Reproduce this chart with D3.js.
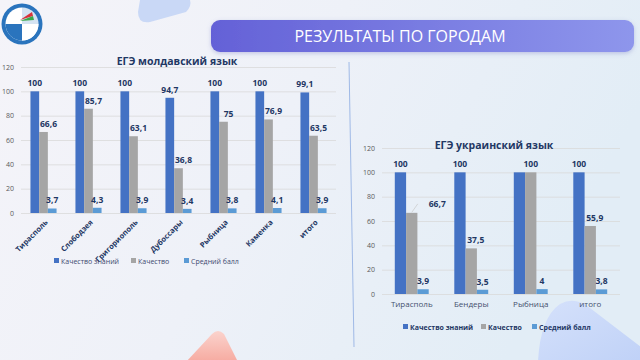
<!DOCTYPE html>
<html><head><meta charset="utf-8">
<script src="https://cdn.jsdelivr.net/npm/d3@7"></script>
<style>
html,body{margin:0;padding:0;width:640px;height:360px;overflow:hidden;}
svg{display:block;font-family:"Open Sans","Noto Sans",sans-serif;}
</style></head>
<body>
<script>
// ---- data ----
const molCities = ["Тирасполь","Слободзея","Григориополь","Дубоссары","Рыбница","Каменка","итого"];
const molKnowledge = [100,100,100,94.7,100,100,99.1];
const molQuality = [66.6,85.7,63.1,36.8,75,76.9,63.5];
const molAvg = [3.7,4.3,3.9,3.4,3.8,4.1,3.9];

const ukrCities = ["Тирасполь","Бендеры","Рыбница","итого"];
const ukrKnowledge = [100,100,100,100];
const ukrQuality = [66.7,37.5,100,55.9];
const ukrAvg = [3.9,3.5,4,3.8];

const seriesNames = ["Качество знаний","Качество","Средний балл"];
const seriesColors = ["#4472C4","#A5A5A5","#5B9BD5"];
const yTicks = [0,20,40,60,80,100,120];
const pageTitle = "РЕЗУЛЬТАТЫ ПО ГОРОДАМ";
const molTitle = "ЕГЭ молдавский язык";
const ukrTitle = "ЕГЭ украинский язык";

const W = 640, H = 360;
const svg = d3.select("body").append("svg").attr("width", W).attr("height", H);
const defs = svg.append("defs");

// background
const bg = defs.append("linearGradient").attr("id","bg").attr("x1","0").attr("y1","0").attr("x2","1").attr("y2","0.3");
bg.append("stop").attr("offset","0").attr("stop-color","#f5f4f9");
bg.append("stop").attr("offset","0.5").attr("stop-color","#eef1f8");
bg.append("stop").attr("offset","1").attr("stop-color","#e2edf6");
svg.append("rect").attr("width",W).attr("height",H).attr("fill","url(#bg)");

// decorative shapes
svg.append("path").attr("d","M140,0 L190,0 Q192,6 186,12 L150,22 Q138,24 138,12 Z").attr("fill","#c9d8f6");
const pink = defs.append("linearGradient").attr("id","pink").attr("x1","0").attr("y1","0").attr("x2","0").attr("y2","1");
pink.append("stop").attr("offset","0").attr("stop-color","#fbd3cd");
pink.append("stop").attr("offset","1").attr("stop-color","#f6aaa0");
svg.append("path").attr("d","M186,362 L212,334 Q218,328 224,334 L238,362 Z").attr("fill","url(#pink)");
const blob = defs.append("linearGradient").attr("id","blob").attr("x1","0").attr("y1","0").attr("x2","1").attr("y2","1");
blob.append("stop").attr("offset","0").attr("stop-color","#d5e1fb");
blob.append("stop").attr("offset","1").attr("stop-color","#bfd1f7");
svg.append("path").attr("d","M538,362 Q540,318 560,304 Q575,296 590,308 L645,350 L645,362 Z").attr("fill","url(#blob)");

// logo
const logo = svg.append("g").attr("transform","translate(22,24)");
logo.append("circle").attr("r",20.5).attr("fill","#2a74bd");
logo.append("circle").attr("r",16.5).attr("fill","#ffffff");
logo.append("path").attr("d","M-16.5,0 A16.5,16.5 0 0,0 0,16.5 L0,0 Z").attr("fill","#2a74bd");
logo.append("path").attr("d","M0,0 L0,16.5 A16.5,16.5 0 0,0 16.5,0 Z").attr("fill","#ffffff");
logo.append("path").attr("d","M0,-16.5 A16.5,16.5 0 0,1 16.5,0 L0,0 Z").attr("fill","#2a74bd").attr("opacity",0.2);
logo.append("path").attr("d","M-2,-4 L10,-12 L11,-8 Z").attr("fill","#d6343b");
logo.append("path").attr("d","M-2,-3 L11,-8 L12,-4 Z").attr("fill","#3aa84a");

// header bar
const hg = defs.append("linearGradient").attr("id","hdr").attr("x1","0").attr("y1","0").attr("x2","1").attr("y2","0");
hg.append("stop").attr("offset","0").attr("stop-color","#6461d7");
hg.append("stop").attr("offset","1").attr("stop-color","#8e96ec");
const sh = defs.append("filter").attr("id","shadow").attr("x","-10%").attr("y","-30%").attr("width","120%").attr("height","180%");
sh.append("feDropShadow").attr("dx",0).attr("dy",1.5).attr("stdDeviation",2).attr("flood-color","#6a6fbf").attr("flood-opacity",0.35);
svg.append("rect").attr("x",211).attr("y",20).attr("width",423).attr("height",32).attr("rx",9)
  .attr("fill","url(#hdr)").attr("filter","url(#shadow)");
svg.append("text").attr("x",400).attr("y",41.5).attr("text-anchor","middle")
  .attr("fill","#ffffff").attr("font-size",16).attr("font-family","'Open Sans',sans-serif")
  .text(pageTitle);

// divider
svg.append("line").attr("x1",349).attr("y1",62).attr("x2",354).attr("y2",347)
  .attr("stroke","#9fb9e6").attr("stroke-width",1);

const fmt = v => String(v).replace(".", ",");
const navy = "#1f3864";

function drawChart(cfg){
  const g = svg.append("g");
  const x0 = d3.scaleBand().domain(cfg.cities).range([cfg.x1, cfg.x2])
    .paddingInner(cfg.pIn).paddingOuter(cfg.pIn/2);
  const x1 = d3.scaleBand().domain([0,1,2]).range([0, x0.bandwidth()]);
  const y = d3.scaleLinear().domain([0,120]).range([cfg.y0, cfg.yTop]);

  // gridlines
  g.selectAll("line.grid").data(yTicks).join("line")
    .attr("x1",cfg.x1).attr("x2",cfg.x2)
    .attr("y1",d=>y(d)+0.5).attr("y2",d=>y(d)+0.5)
    .attr("stroke","#d9d9d9").attr("stroke-width",0.8);

  // y axis labels
  const ax = g.append("g").attr("transform",`translate(${cfg.x1},0)`)
    .call(d3.axisLeft(y).tickValues(yTicks).tickSize(0).tickPadding(cfg.tickPad));
  ax.select(".domain").remove();
  ax.selectAll("text").attr("fill","#595959").attr("font-size",7).attr("font-family","'Open Sans',sans-serif");

  const series = [cfg.knowledge, cfg.quality, cfg.avg];
  const rows = [];
  cfg.cities.forEach((c,i)=>series.forEach((s,k)=>rows.push({c,i,k,v:s[i]})));

  g.selectAll("rect.bar").data(rows).join("rect")
    .attr("x",d=>x0(d.c)+x1(d.k)).attr("width",x1.bandwidth())
    .attr("y",d=>y(d.v)).attr("height",d=>y(0)-y(d.v))
    .attr("fill",d=>seriesColors[d.k]);

  // data labels
  const lab = rows.filter(d=>!(d.k===0 && cfg.quality[d.i]===d.v));
  g.selectAll("text.val").data(lab).join("text")
    .attr("x",d=>{
      let cx = x0(d.c)+x1(d.k)+x1.bandwidth()/2;
      if(d.k===1 && d.v!==cfg.knowledge[d.i]) cx += cfg.grayShift;
      if(cfg.leader && d.k===1 && d.i===cfg.leader.i) cx += cfg.leader.dx;
      return cx;})
    .attr("y",d=>{
      let yy = y(d.v)-cfg.labGap;
      if(cfg.leader && d.k===1 && d.i===cfg.leader.i) yy += cfg.leader.dy;
      return yy;})
    .attr("text-anchor","middle").attr("font-size",cfg.labSize).attr("font-weight","bold")
    .attr("fill",navy).attr("font-family","'Open Sans',sans-serif").text(d=>fmt(d.v));

  if(cfg.leader){
    const d = rows.find(r=>r.k===1 && r.i===cfg.leader.i);
    const bx = x0(d.c)+x1(1)+x1.bandwidth()/2;
    g.append("line").attr("x1",bx).attr("y1",y(d.v)-0.5)
      .attr("x2",bx+cfg.leader.lx).attr("y2",y(d.v)+cfg.leader.ly)
      .attr("stroke","#c8c8c8").attr("stroke-width",0.7);
  }

  // x labels
  const xl = g.selectAll("text.cat").data(cfg.cities).join("text")
    .attr("fill",cfg.catColor).attr("font-size",cfg.catSize).attr("font-weight",cfg.catWeight)
    .attr("font-family","'Open Sans',sans-serif").text(d=>d);
  if(cfg.rotate){
    xl.attr("text-anchor","end")
      .attr("transform",d=>`translate(${x0(d)+x0.bandwidth()/2+3},${cfg.y0+8}) rotate(-45)`)
      .attr("dy","0.35em");
  } else {
    xl.attr("text-anchor","middle").attr("x",d=>x0(d)+x0.bandwidth()/2).attr("y",cfg.y0+13);
  }

  // title
  g.append("text").attr("x",cfg.titleX).attr("y",cfg.titleY).attr("text-anchor","middle")
    .attr("fill",navy).attr("font-size",10.5).attr("font-weight","bold")
    .attr("font-family","'Open Sans',sans-serif").text(cfg.title);

  // legend
  const lg = g.append("g");
  seriesNames.forEach((n,k)=>{
    lg.append("rect").attr("x",cfg.legX[k]).attr("y",cfg.legY-3).attr("width",5).attr("height",5).attr("fill",seriesColors[k]);
    lg.append("text").attr("x",cfg.legX[k]+7).attr("y",cfg.legY+2.5).attr("font-size",cfg.legSize)
      .attr("font-weight",cfg.legWeight).attr("fill",cfg.legColor)
      .attr("font-family","'Open Sans',sans-serif").text(n);
  });
}

drawChart({
  cities: molCities, knowledge: molKnowledge, quality: molQuality, avg: molAvg,
  x1: 21, x2: 336, pIn: 0.42, y0: 213, yTop: 67, tickPad: 7,
  labSize: 8.5, labGap: 5, grayShift: 5,
  catColor: navy, catSize: 7.5, catWeight: "bold", rotate: true,
  title: molTitle, titleX: 177, titleY: 65,
  legX: [54, 131, 184], legY: 261, legSize: 7, legWeight: "normal", legColor: "#404a70"
});

drawChart({
  cities: ukrCities, knowledge: ukrKnowledge, quality: ukrQuality, avg: ukrAvg,
  x1: 382, x2: 620, pIn: 0.43, y0: 294, yTop: 148, tickPad: 7,
  labSize: 8.5, labGap: 5, grayShift: 4.5,
  leader: {i:0, dx: 21, dy: -0.5, lx: 6, ly: -9},
  catColor: "#44506e", catSize: 8, catWeight: "normal", rotate: false,
  title: ukrTitle, titleX: 494, titleY: 148.5,
  legX: [403, 481, 532], legY: 327, legSize: 7, legWeight: "bold", legColor: navy
});
</script>
</body></html>
